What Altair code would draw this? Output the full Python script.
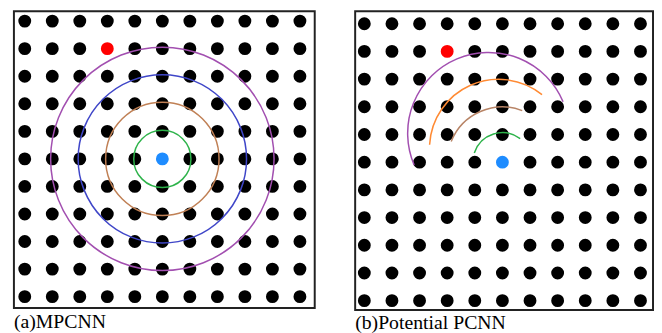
import math
import altair as alt
import pandas as pd

# ---- data ----
grid_cols = list(range(11))
grid_rows = list(range(11))

red_point = (3, 1)    # (col, row)
blue_point = (5, 5)

# Panel (a): concentric circles around the blue node
a_names = ["r1", "r2", "r3", "r4"]
a_cx = [5, 5, 5, 5]
a_cy = [5, 5, 5, 5]
a_radius = [1.04, 2.06, 3.06, 4.06]
a_start = [0, 0, 0, 0]
a_end = [360, 360, 360, 360]
a_colors = ["#2db34a", "#c08055", "#3f46c8", "#a24fb0"]

# Panel (b): partial arcs (degrees clockwise from 12 o'clock)
b_names = ["g", "b", "o", "p"]
b_cx = [5.0, 5.0, 4.86, 4.5]
b_cy = [5.0, 5.0, 4.5, 3.96]
b_radius = [1.07, 2.0, 2.5, 2.93]
b_start = [-72, -68, -87, -113]
b_end = [37, 21, 39, 67]
b_colors = ["#2db34a", "#b88466", "#ff8a33", "#a24fb0"]

labels = ["(a)MPCNN", "(b)Potential PCNN"]


def panel(names, cx, cy, radius, t0, t1, colors, width, height,
          xdom, ydom, px_per_unit, label, offset):
    dots = pd.DataFrame([(c, r) for r in grid_rows for c in grid_cols],
                        columns=["col", "row"])
    dots = dots[~(((dots.col == red_point[0]) & (dots.row == red_point[1])) |
                  ((dots.col == blue_point[0]) & (dots.row == blue_point[1])))]
    special = pd.DataFrame({"col": [red_point[0], blue_point[0]],
                            "row": [red_point[1], blue_point[1]],
                            "kind": ["red", "blue"]})
    arcs = pd.DataFrame({"name": names, "cx": cx, "cy": cy, "r": radius,
                         "t0": t0, "t1": t1})

    xs = alt.Scale(domain=xdom, nice=False, zero=False)
    ys = alt.Scale(domain=ydom, nice=False, zero=False, reverse=True)

    base_dots = alt.Chart(dots).mark_circle(size=170, opacity=1, color="black").encode(
        x=alt.X("col:Q", scale=xs, axis=None),
        y=alt.Y("row:Q", scale=ys, axis=None),
    )
    sp = alt.Chart(special).mark_circle(size=170, opacity=1).encode(
        x=alt.X("col:Q", scale=xs, axis=None),
        y=alt.Y("row:Q", scale=ys, axis=None),
        color=alt.Color("kind:N", scale=alt.Scale(domain=["red", "blue"],
                                                  range=["#ff0000", "#1e8cff"]),
                        legend=None),
    )
    arc_layer = alt.Chart(arcs).mark_arc(filled=False, strokeWidth=1.5).encode(
        x=alt.X("cx:Q", scale=xs, axis=None),
        y=alt.Y("cy:Q", scale=ys, axis=None),
        theta=alt.Theta("t0:Q", stack=False,
                        scale=alt.Scale(type="linear", domain=[0, 360],
                                        range=[0, 2 * math.pi], zero=False, nice=False)),
        theta2=alt.Theta2("t1:Q"),
        radius=alt.Radius("r:Q", scale=alt.Scale(type="linear", domain=[0, 1],
                                                 range=[0, px_per_unit], zero=True, nice=False)),
        radius2=alt.Radius2("r:Q"),
        stroke=alt.Stroke("name:N", scale=alt.Scale(domain=names, range=colors),
                          legend=None),
    )
    return alt.layer(base_dots, sp, arc_layer).resolve_scale(color="independent").properties(
        width=width, height=height,
        title=alt.TitleParams(label, orient="bottom", anchor="start",
                              font="Times New Roman, Liberation Serif, serif", fontSize=20,
                              fontWeight="normal", color="black",
                              baseline="alphabetic", offset=offset),
    )


left = panel(a_names, a_cx, a_cy, a_radius, a_start, a_end, a_colors,
             305, 301, [-0.394, 10.538], [-0.358, 10.415], 27.9, labels[0], 20)
right = panel(b_names, b_cx, b_cy, b_radius, b_start, b_end, b_colors,
              302, 303, [-0.332, 10.454], [-0.45, 10.34], 28.0, labels[1], 19)

chart = alt.hconcat(left, right, spacing=39).resolve_scale(
    x="independent", y="independent", color="independent",
    stroke="independent", theta="independent", radius="independent",
).properties(
    padding={"left": 5, "top": 0, "right": 0, "bottom": 0},
    background="white",
).configure_view(stroke="#222222", strokeWidth=2)

chart.save("out.html", embed_options={"renderer": "svg", "actions": False})
